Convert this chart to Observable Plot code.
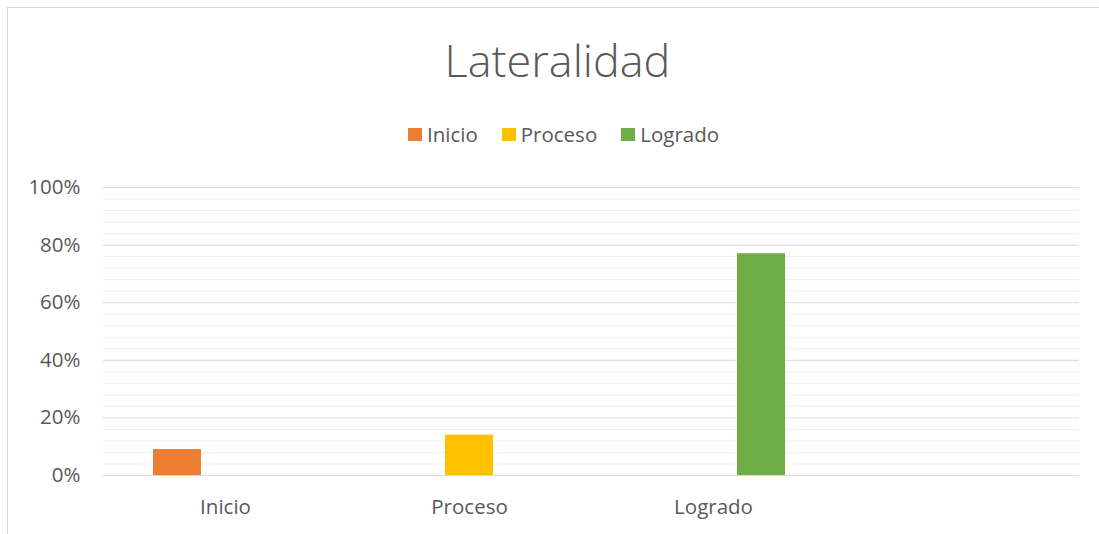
<!DOCTYPE html>
<html>
<head>
<meta charset="utf-8">
<script src="https://cdn.jsdelivr.net/npm/d3@7"></script>
<script src="https://cdn.jsdelivr.net/npm/@observablehq/plot@0.6"></script>
<style>
  html, body { margin: 0; padding: 0; background: #fff; }
  body { width: 1099px; height: 534px; position: relative; overflow: hidden; font-family: "Open Sans", Lato, sans-serif; color: #595959; }
  #frame { position: absolute; left: 7px; top: 7px; width: 1200px; height: 600px; border-top: 1px solid #d9d9d9; border-left: 1px solid #d9d9d9; }
  #title { position: absolute; left: 8px; width: 1099px; top: 30px; text-align: center; font-size: 45px; font-weight: 300; line-height: 60px; color: #595959; }
  #legend { position: absolute; left: 14px; width: 1099px; top: 122px; display: flex; justify-content: center; font-size: 20.5px; line-height: 24px; color: #595959; }
  .item { display: flex; align-items: center; margin: 0 12px; }
  .sw { width: 14px; height: 13px; margin-right: 5px; }
  #chart { position: absolute; left: 0; top: 150px; }
  #chart svg [aria-label^="fx-axis"] text { font-size: 20.5px; }
  #chart svg [aria-label^="y-axis"] text { font-size: 20.5px; }
</style>
</head>
<body>
<div id="frame"></div>
<div id="title"></div>
<div id="legend"></div>
<div id="chart"></div>
<script>
const titleText = "Lateralidad";
const categories = ["Inicio", "Proceso", "Logrado", " "];
const series = ["Inicio", "Proceso", "Logrado"];
const seriesColors = ["#ED7D31", "#FFC000", "#70AD47"];
const valueInicio = [9, null, null, null];
const valueProceso = [null, 14, null, null];
const valueLogrado = [null, null, 77, null];
const majorTicks = [0, 20, 40, 60, 80, 100];
const minorTicks = [4, 8, 12, 16, 24, 28, 32, 36, 44, 48, 52, 56, 64, 68, 72, 76, 84, 88, 92, 96];

const seriesValues = [valueInicio, valueProceso, valueLogrado];
const rows = [];
categories.forEach((c, i) => {
  series.forEach((s, j) => {
    rows.push({category: c, series: s, value: seriesValues[j][i]});
  });
});

document.getElementById("title").textContent = titleText;
const legend = document.getElementById("legend");
series.forEach((s, j) => {
  const it = document.createElement("div");
  it.className = "item";
  const sw = document.createElement("span");
  sw.className = "sw";
  sw.style.background = seriesColors[j];
  const tx = document.createElement("span");
  tx.textContent = s;
  it.appendChild(sw); it.appendChild(tx);
  legend.appendChild(it);
});

const chart = Plot.plot({
  width: 1099,
  height: 384,
  marginTop: 37,
  marginBottom: 59,
  marginLeft: 102,
  marginRight: 19,
  style: {fontFamily: "'Open Sans', Lato, sans-serif", color: "#595959", background: "transparent", overflow: "visible"},
  fx: {domain: categories, padding: 0, axis: "bottom", tickSize: 0, tickPadding: 24, label: null, tickFormat: d => d.trim()},
  x: {domain: series, paddingInner: 0, paddingOuter: 1, axis: null},
  y: {domain: [0, 100], ticks: majorTicks, tickSize: 0, tickPadding: 23, tickFormat: d => d + "%", label: null},
  color: {domain: series, range: seriesColors},
  marks: [
    Plot.ruleY(minorTicks, {stroke: "#efefef", strokeWidth: 1}),
    Plot.ruleY(majorTicks, {stroke: "#d9d9d9", strokeWidth: 1}),
    Plot.barY(rows, {fx: "category", x: "series", y: "value", fill: "series"})
  ]
});
document.getElementById("chart").appendChild(chart);
</script>
</body>
</html>
